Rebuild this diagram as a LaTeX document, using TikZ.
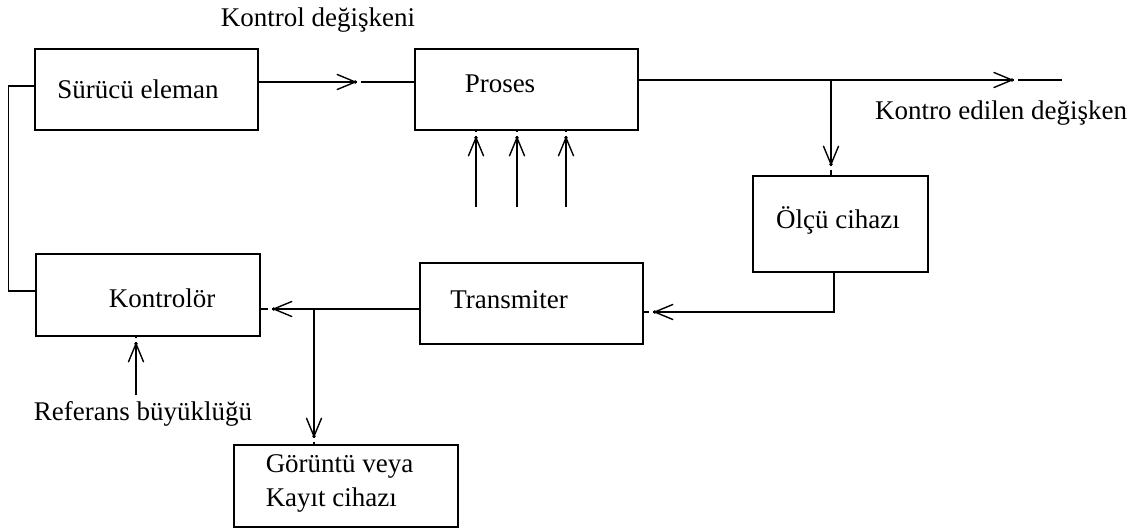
\documentclass[tikz,border=0pt]{standalone}
\usepackage{fontspec}
\setmainfont{Liberation Serif}
\usetikzlibrary{arrows.meta,decorations.markings}
\begin{document}
\begin{tikzpicture}[x=1pt,y=-1pt,line width=1.5pt,
  box/.style={draw,line width=1.5pt,inner sep=0pt},
  lbl/.style={font=\fontsize{27}{34}\selectfont,inner sep=0pt,anchor=base},
  tipat/.style={postaction={decorate},decoration={markings,
     mark=at position #1 with {
        \fill[white] (1.5pt,-1.6pt) rectangle (6pt,1.6pt);
        \draw[line width=1.4pt,line join=round,line cap=round] (-18pt,-7.5pt) -- (0pt,0pt) -- (-18pt,7.5pt);
        \fill (0pt,0pt) circle (1.9pt);}}}]
\useasboundingbox (0,0) rectangle (1145,532);
% boxes
\node[box,minimum width=223pt,minimum height=81pt] (sur) at (146.5,89.5) {};
\node[box,minimum width=223pt,minimum height=81pt] (pro) at (526.5,89.5) {};
\node[box,minimum width=175pt,minimum height=96pt] (olc) at (840.5,224) {};
\node[box,minimum width=223pt,minimum height=81pt] (tra) at (531.5,303.5) {};
\node[box,minimum width=224pt,minimum height=82pt] (kon) at (148,295) {};
\node[box,minimum width=224pt,minimum height=82pt] (gor) at (346,486) {};
% texts
\node[lbl] (t0) at (318,27) {Kontrol değişkeni};
\node[lbl] (t1) at (138,99) {Sürücü eleman};
\node[lbl] (t2) at (500,93) {Proses};
\node[lbl] (t3) at (1001,120) {Kontro edilen değişken};
\node[lbl] (t4) at (838,228) {Ölçü cihazı};
\node[lbl] (t5) at (509,308) {Transmiter};
\node[lbl] (t6) at (162,307) {Kontrolör};
\node[lbl] (t7) at (143,420) {Referans büyüklüğü};
\node[lbl,anchor=west,align=left] (t8) at (265,483.5) {Görüntü veya\\Kayıt cihazı};
% connectors
\coordinate (out) at (1062,80);
\coordinate (br) at (831,80);
\coordinate (jt) at (314,309);
\coordinate (rs) at (136,395);
\draw[tipat=-59pt] ([yshift=7.5pt]sur.east) -- ([yshift=7.5pt]pro.west);
\draw[tipat=-50pt] ([yshift=9.5pt]pro.east) -- (out);
\draw[tipat=-11pt] (br) -- (br |- olc.north);
\draw[tipat=-11pt] ([xshift=-6.5pt]olc.south) |- ([yshift=-8.5pt]tra.east);
\draw[tipat=-13pt] ([yshift=-5.5pt]tra.west) -- ([yshift=-14pt]kon.east);
\draw[tipat=-8pt] (jt) -- (jt |- gor.north);
\draw[tipat=-7pt] (rs) -- (rs |- kon.south);
\draw ([yshift=3.5pt]sur.west) -- ++(-26,0) |- ([yshift=4pt]kon.west);
\foreach \x/\n in {476/u1,517/u2,566/u3}{
  \coordinate (\n) at (\x,207);
  \draw[tipat=-7pt] (\n) -- (\n |- pro.south);
}
\end{tikzpicture}
\end{document}
